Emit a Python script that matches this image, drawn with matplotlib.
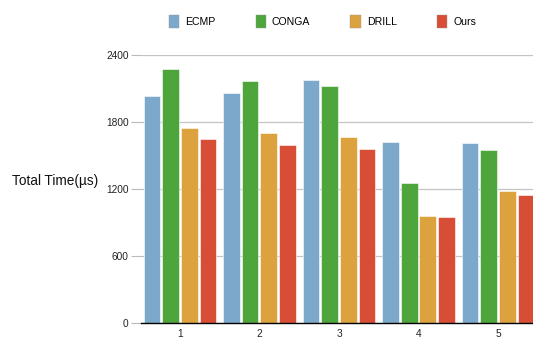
import numpy as np
import matplotlib
matplotlib.use("Agg")
import matplotlib.pyplot as plt

# temps total par scénario
groupes = [1, 2, 3, 4, 5]
ecmp = [2030, 2060, 2175, 1620, 1610]
conga = [2275, 2170, 2120, 1250, 1545]
drill = [1750, 1705, 1670, 960, 1185]
ours = [1645, 1590, 1555, 945, 1150]

series = ["ECMP", "CONGA", "DRILL", "Ours"]
couleurs = ["#7ba8cb", "#4ea53c", "#dca23d", "#d84d35"]
yticks = [0, 600, 1200, 1800, 2400]

plt.rcParams['font.family'] = ['Liberation Sans', 'DejaVu Sans']

fig = plt.figure(figsize=(5.33, 3.38), dpi=100)
ax = fig.add_axes([0.2645, 0.0444, 0.7355, 0.7929])

x = np.array(groupes, dtype=float)
larg = 0.21
pas = 0.235
donnees = [ecmp, conga, drill, ours]
barres = []
for i, (nom, val, c) in enumerate(zip(series, donnees, couleurs)):
    b = ax.bar(x + (i - 1.5) * pas, val, width=larg, color=c,
               edgecolor="white", linewidth=0.4, label=nom, zorder=3)
    barres.append(b)

ax.set_ylim(0, 2400)
ax.set_xlim(0.51, 5.44)
ax.set_yticks(yticks)
ax.set_xticks(groupes)
ax.tick_params(axis='both', labelsize=7.3, colors='#222222')
ax.tick_params(axis='y', length=7, width=0.8, color='#bbbbbb', pad=2)
ax.tick_params(axis='x', length=0, pad=4)

ax.grid(axis='y', color='#c4c4c4', linewidth=0.9, zorder=0)
for s in ['top', 'right', 'left']:
    ax.spines[s].set_visible(False)
ax.spines['bottom'].set_color('black')
ax.spines['bottom'].set_linewidth(1.0)
ax.spines['bottom'].set_zorder(4)

fig.text(0.022, 0.465, "Total Time(µs)", fontsize=9.8, color='#111111',
         va='center', ha='left')

leg = fig.legend(handles=barres, labels=series, loc='center', ncol=4,
                 bbox_to_anchor=(0.605, 0.937), frameon=False, fontsize=7.6,
                 handlelength=1.0, handleheight=1.45, columnspacing=3.8,
                 handletextpad=0.55)
for h in leg.legend_handles:
    h.set_edgecolor('#999999')
    h.set_linewidth(0.3)

fig.savefig("out.png", dpi=100)
